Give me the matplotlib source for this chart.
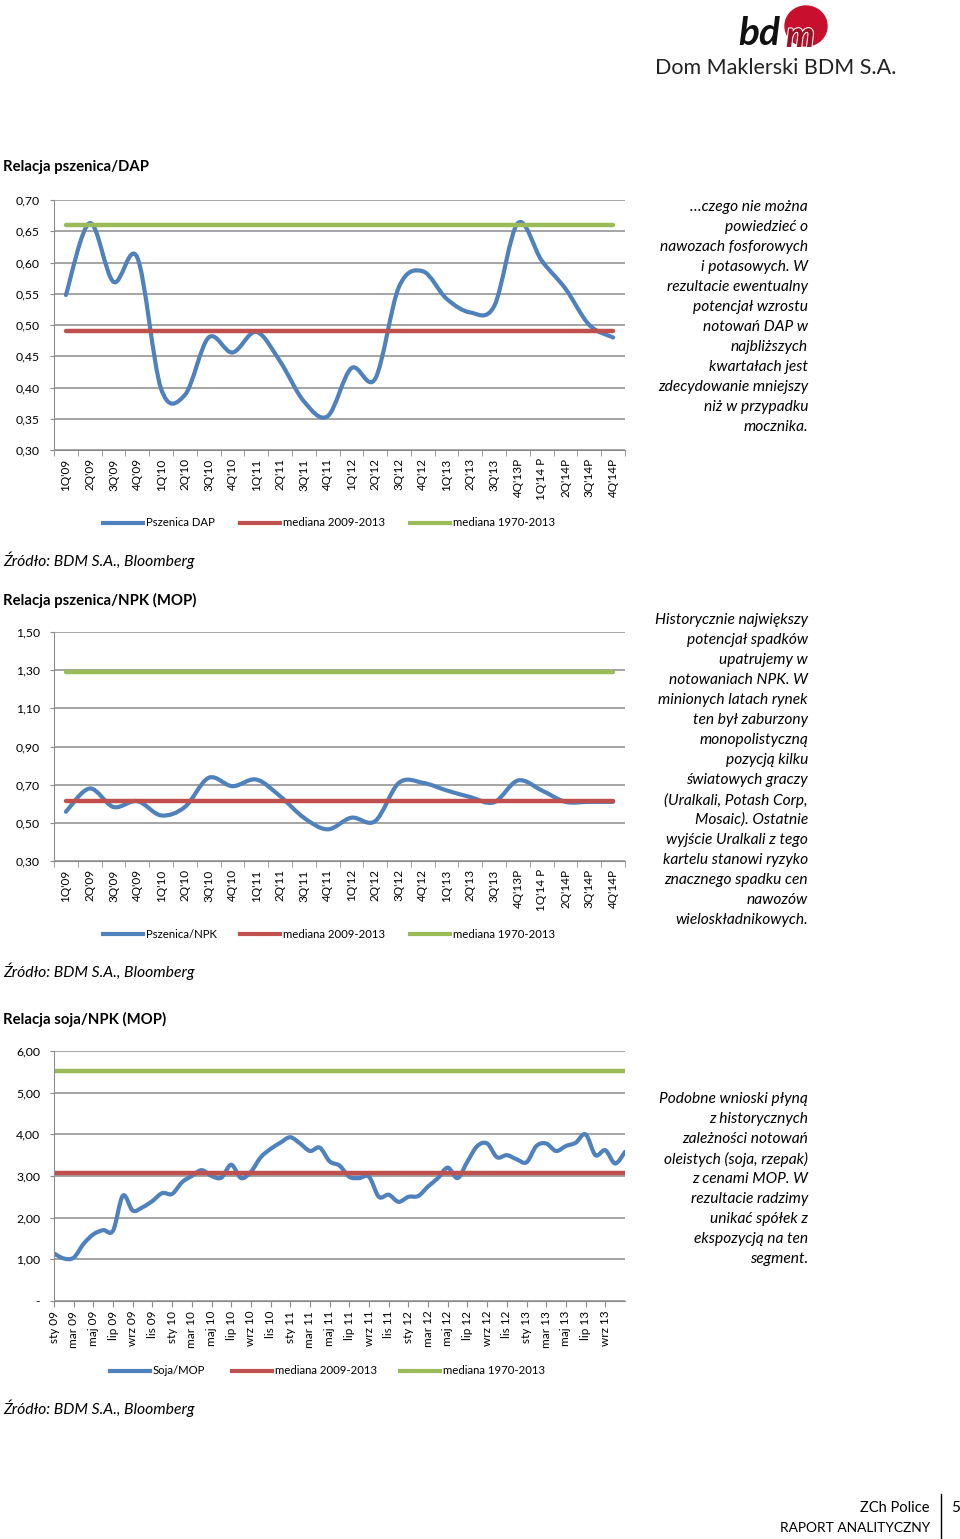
import numpy as np
import matplotlib
matplotlib.use('Agg')
import matplotlib.pyplot as plt
import matplotlib.patheffects as pe
from matplotlib.path import Path
from matplotlib.patches import PathPatch, Ellipse
from matplotlib.lines import Line2D

plt.rcParams['font.family'] = ['Lato', 'DejaVu Sans']

# ---- data ----
quarters = ["1Q'09", "2Q'09", "3Q'09", "4Q'09", "1Q'10", "2Q'10", "3Q'10", "4Q'10",
            "1Q'11", "2Q'11", "3Q'11", "4Q'11", "1Q'12", "2Q'12", "3Q'12", "4Q'12",
            "1Q'13", "2Q'13", "3Q'13", "4Q'13P", "1Q'14 P", "2Q'14P", "3Q'14P", "4Q'14P"]

dap = [0.548, 0.663, 0.569, 0.608, 0.398, 0.388, 0.480, 0.456,
       0.489, 0.442, 0.378, 0.354, 0.431, 0.414, 0.561, 0.586,
       0.542, 0.520, 0.530, 0.663, 0.603, 0.558, 0.500, 0.480]
dap_med_0913 = 0.49
dap_med_7013 = 0.66

npk = [0.558, 0.680, 0.583, 0.614, 0.539, 0.583, 0.736, 0.692,
       0.727, 0.640, 0.527, 0.466, 0.527, 0.509, 0.710, 0.710,
       0.670, 0.635, 0.608, 0.722, 0.670, 0.610, 0.610, 0.610]
npk_med_0913 = 0.612
npk_med_7013 = 1.29

month_names = ['sty', 'mar', 'maj', 'lip', 'wrz', 'lis']
month_labels = ['%s %02d' % (month_names[k % 6], 9 + k // 6) for k in range(29)]

soja = [1.14, 1.02, 1.04, 1.37, 1.60, 1.70, 1.69, 2.53, 2.17, 2.25,
        2.40, 2.59, 2.57, 2.85, 3.00, 3.14, 3.00, 2.96, 3.27, 2.95,
        3.10, 3.45, 3.65, 3.80, 3.93, 3.78, 3.60, 3.68, 3.35, 3.25,
        2.98, 2.95, 2.98, 2.50, 2.55, 2.38, 2.50, 2.52, 2.75, 2.95,
        3.20, 2.95, 3.35, 3.72, 3.78, 3.45, 3.50, 3.40, 3.33, 3.72,
        3.78, 3.60, 3.72, 3.80, 4.00, 3.50, 3.62, 3.30, 3.58]
soja_med_0913 = 3.07
soja_med_7013 = 5.53

text_dap = ["\u2026czego nie można", "powiedzieć o", "nawozach fosforowych",
            "i potasowych. W", "rezultacie ewentualny", "potencjał wzrostu",
            "notowań DAP w", "najbliższych", "kwartałach jest",
            "zdecydowanie mniejszy", "niż w przypadku", "mocznika."]
text_npk = ["Historycznie największy", "potencjał spadków", "upatrujemy w",
            "notowaniach NPK. W", "minionych latach rynek", "ten był zaburzony",
            "monopolistyczną", "pozycją kilku", "światowych graczy",
            "(Uralkali, Potash Corp,", "Mosaic). Ostatnie", "wyjście Uralkali z tego",
            "kartelu stanowi ryzyko", "znacznego spadku cen", "nawozów",
            "wieloskładnikowych."]
text_soja = ["Podobne wnioski płyną", "z historycznych", "zależności notowań",
             "oleistych (soja, rzepak)", "z cenami MOP. W", "rezultacie radzimy",
             "unikać spółek z", "ekspozycją na ten", "segment."]

BLUE = '#4F81BD'
RED = '#C0504D'
GREEN = '#9BBB59'
GRID = '#8c8c8c'

W, H = 960, 1539
fig = plt.figure(figsize=(W / 100, H / 100), dpi=100)


def fx(x):
    return x / W


def fy(y):
    return 1 - y / H


def smooth_path(x, y):
    # bezier through the points, like excel's smoothed line
    pts = np.column_stack([x, y]).astype(float)
    n = len(pts)
    verts = [pts[0]]
    codes = [Path.MOVETO]
    for i in range(n - 1):
        p0 = pts[max(i - 1, 0)]
        p1 = pts[i]
        p2 = pts[i + 1]
        p3 = pts[min(i + 2, n - 1)]
        verts += [p1 + (p2 - p0) / 6, p2 - (p3 - p1) / 6, p2]
        codes += [Path.CURVE4] * 3
    return Path(verts, codes)


def make_axes(top, bottom):
    ax = fig.add_axes([fx(54), fy(bottom), fx(625 - 54), (bottom - top) / H])
    for s in ['top', 'right']:
        ax.spines[s].set_visible(False)
    ax.spines['left'].set_color(GRID)
    ax.spines['bottom'].set_color(GRID)
    ax.grid(axis='y', color=GRID, lw=1.1)
    ax.set_axisbelow(True)
    ax.tick_params(axis='y', length=3, color=GRID, labelsize=8.8, pad=7)
    return ax


def draw_series(ax, x, y, med1, med2, xr):
    ax.plot(xr, [med2, med2], color=GREEN, lw=3.2, solid_capstyle='round')
    ax.plot(xr, [med1, med1], color=RED, lw=3.2, solid_capstyle='round')
    ax.add_patch(PathPatch(smooth_path(x, y), fill=False, edgecolor=BLUE,
                           lw=3.0, capstyle='round', joinstyle='round'))


def legend(name, y, xs):
    items = [(BLUE, name), (RED, 'mediana 2009-2013'), (GREEN, 'mediana 1970-2013')]
    for (c, lab), x0 in zip(items, xs):
        fig.add_artist(Line2D([fx(x0), fx(x0 + 40)], [fy(y), fy(y)], color=c, lw=3,
                              transform=fig.transFigure))
        fig.text(fx(x0 + 43), fy(y), lab, fontsize=8.2, va='center', ha='left')


def quarter_axis(ax):
    n = len(quarters)
    ax.set_xlim(-0.5, n - 0.5)
    ax.set_xticks(range(n))
    ax.set_xticklabels(quarters, rotation=90, fontsize=8.5)
    ax.set_xticks(np.arange(-0.5, n), minor=True)
    ax.tick_params(axis='x', which='major', length=0, pad=6)
    ax.tick_params(axis='x', which='minor', length=4, color=GRID)


def comma(v, nd=2):
    return ('%.*f' % (nd, v)).replace('.', ',')


# ---- header ----
fig.add_artist(Ellipse((fx(806), fy(26)), 42 / W, 40 / H, color='#C8102E',
                       transform=fig.transFigure, zorder=1))
fig.text(fx(738), fy(45), 'bd', fontsize=28, fontweight='bold', style='italic',
         color='#111111', ha='left', va='baseline', zorder=2)
fig.text(fx(786), fy(47), 'm', fontsize=26, fontweight='bold', style='italic',
         color='#9b1022', ha='left', va='baseline', zorder=3,
         path_effects=[pe.withStroke(linewidth=1.5, foreground='white')])
fig.text(fx(655), fy(68), 'Dom Maklerski BDM S.A.', fontsize=15.5, color='#222222',
         ha='left', va='center')

# ---- chart 1 ----
fig.text(fx(3), fy(167), 'Relacja pszenica/DAP', fontsize=10.7, fontweight='bold',
         va='center')
ax1 = make_axes(200, 450)
x = np.arange(len(quarters))
draw_series(ax1, x, dap, dap_med_0913, dap_med_7013, [0, len(quarters) - 1])
ax1.set_ylim(0.30, 0.70)
ax1.set_yticks(np.arange(0.30, 0.701, 0.05))
ax1.set_yticklabels([comma(v) for v in np.arange(0.30, 0.701, 0.05)])
quarter_axis(ax1)
legend('Pszenica DAP', 523, [103, 240, 410])
fig.text(fx(3), fy(560), 'Źródło: BDM S.A., Bloomberg', fontsize=11.3, style='italic',
         va='center')

# ---- chart 2 ----
fig.text(fx(3), fy(600), 'Relacja pszenica/NPK (MOP)', fontsize=10.7, fontweight='bold',
         va='center')
ax2 = make_axes(632, 861)
draw_series(ax2, x, npk, npk_med_0913, npk_med_7013, [0, len(quarters) - 1])
ax2.set_ylim(0.30, 1.50)
ax2.set_yticks(np.arange(0.30, 1.501, 0.20))
ax2.set_yticklabels([comma(v) for v in np.arange(0.30, 1.501, 0.20)])
quarter_axis(ax2)
legend('Pszenica/NPK', 934, [103, 240, 410])
fig.text(fx(3), fy(971), 'Źródło: BDM S.A., Bloomberg', fontsize=11.3, style='italic',
         va='center')

# ---- chart 3 ----
fig.text(fx(3), fy(1019), 'Relacja soja/NPK (MOP)', fontsize=10.7, fontweight='bold',
         va='center')
ax3 = make_axes(1051, 1301)
xm = np.arange(len(soja))
draw_series(ax3, xm, soja, soja_med_0913, soja_med_7013, [0, len(soja) - 1])
ax3.set_xlim(0, len(soja) - 1)
ax3.set_ylim(0, 6)
ax3.set_yticks(range(7))
ax3.set_yticklabels(['-'] + [comma(v) for v in range(1, 7)])
ax3.set_xticks(np.arange(0, 2 * len(month_labels), 2))
ax3.set_xticklabels(month_labels, rotation=90, fontsize=8.5)
ax3.tick_params(axis='x', length=4, color=GRID, pad=3)
legend('Soja/MOP', 1371, [110, 232, 400])
fig.text(fx(3), fy(1408), 'Źródło: BDM S.A., Bloomberg', fontsize=11.3, style='italic',
         va='center')

# ---- side comments ----
for lines, y0 in [(text_dap, 207), (text_npk, 620), (text_soja, 1099)]:
    for i, s in enumerate(lines):
        fig.text(fx(808), fy(y0 + 20 * i), s, fontsize=11.2, style='italic',
                 ha='right', va='center')

# ---- footer ----
fig.text(fx(930), fy(1508), 'ZCh Police', fontsize=10.5, ha='right', va='center')
fig.text(fx(930), fy(1528), 'RAPORT ANALITYCZNY', fontsize=9.9, ha='right', va='center')
fig.add_artist(Line2D([fx(941), fx(941)], [fy(1494), fy(1539)], color='black', lw=1,
                      transform=fig.transFigure))
fig.text(fx(956), fy(1508), '5', fontsize=11, ha='center', va='center')

fig.savefig('out.png', dpi=100)
